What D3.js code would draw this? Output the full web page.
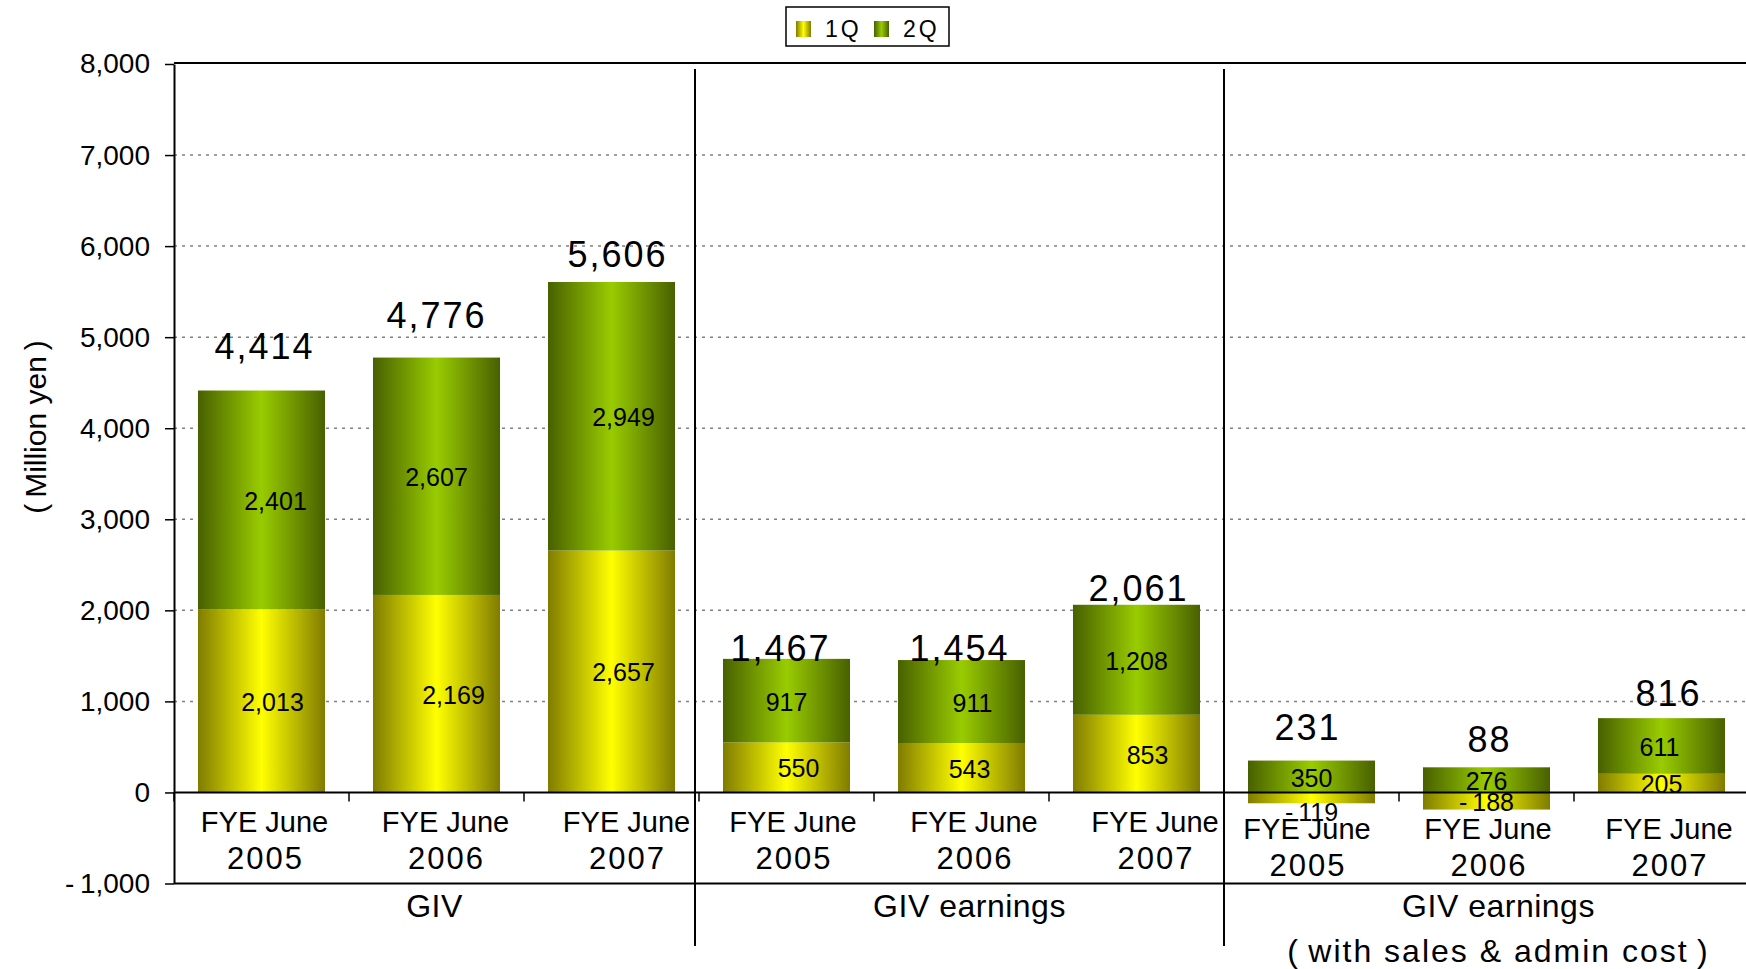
<!DOCTYPE html>
<html>
<head>
<meta charset="utf-8">
<script src="https://cdn.jsdelivr.net/npm/d3@7"></script>
<style>
  body { margin: 0; background: #fff; }
  text { font-family: "Liberation Sans", Arial, "Noto Sans CJK JP", sans-serif; fill: #000; }
</style>
</head>
<body>
<div id="chart"></div>
<script>
//Group names shown under the plot (one entry per line).
const groupNames = [["GIV"], ["GIV earnings"], ["GIV earnings", "(\u2009with sales & admin cost\u2009)"]]

//Fiscal years inside every group.
const years = ["2005", "2006", "2007"]

//Series values, in group order (GIV, GIV earnings, GIV earnings with costs).
const seriesNames = ["1Q", "2Q"]
const q1 = [2013, 2169, 2657, 550, 543, 853, -119, -188, 205]
const q2 = [2401, 2607, 2949, 917, 911, 1208, 350, 276, 611]
const totals = [4414, 4776, 5606, 1467, 1454, 2061, 231, 88, 816]

//Values on the y axis.
const yTicks = [-1000, 0, 1000, 2000, 3000, 4000, 5000, 6000, 7000, 8000]

//Page and plot size.
let w = 1746
let h = 969
let plotLeft = 174
let plotRight = 1749
let plotTop = 64
let plotBottom = 883.5

//Hand placed nudges the original chart uses for its labels (pixels).
let totalLift = [44, 42, 27, 10, 12, 16, 33, 28, 25]
let totalDx = [3, 0, 6, -6, -2, 2, -4, 3, 7]
let segLabelDx = {
  "1Q": [11, 17, 12, 12, 8, 11, 0, 0, 0],
  "2Q": [14, 0, 12, 0, 11, 0, 0, 0, -2]
}
let segLabelDy = {
  "1Q": [0, 0, 0, 0, 0, 0, 13, 0, 0],
  "2Q": [0, 0, 0, 0, 0, 0, 0, 0, 0]
}
let labelStep = 181
let groupLabelDx = [0, 3.5, -7.5]
let groupLabelDy = [0, 0, 7]
let groupNameDx = [-2, 8, 12]
let separatorDx = [-4, 0]

//Bar colours: dark edges, bright middle.
let colors = {
  "1Q": { edge: "#7f7c00", mid: "#ffff00" },
  "2Q": { edge: "#486000", mid: "#99cc00" }
}

//Builds one row per bar.
const cats = []
groupNames.forEach((g, gi) => years.forEach(yr => cats.push(gi + "-" + yr)))
const rows = cats.map((c, i) => ({
  cat: c,
  idx: i,
  group: Math.floor(i / 3),
  year: years[i % 3],
  "1Q": q1[i],
  "2Q": q2[i],
  total: totals[i]
}))

const stacked = d3.stack()
  .keys(seriesNames)
  .offset(d3.stackOffsetDiverging)(rows)

const fmt = d => d < 0 ? "-\u2009" + d3.format(",")(-d) : d3.format(",")(d)

const svg = d3.select("#chart")
  .append("svg")
  .attr("width", w)
  .attr("height", h)

//Horizontal gradients for the bars and the legend swatches.
const defs = svg.append("defs")
seriesNames.forEach(s => {
  const grad = defs.append("linearGradient")
    .attr("id", "grad-" + s)
    .attr("x1", 0).attr("x2", 1).attr("y1", 0).attr("y2", 0)
  grad.append("stop").attr("offset", "0%").attr("stop-color", colors[s].edge)
  grad.append("stop").attr("offset", "50%").attr("stop-color", colors[s].mid)
  grad.append("stop").attr("offset", "100%").attr("stop-color", colors[s].edge)
})

const x = d3.scaleBand()
  .domain(cats)
  .range([plotLeft, plotRight])
  .paddingInner(0.274)
  .paddingOuter(0.137)

const y = d3.scaleLinear()
  .domain([d3.min(yTicks), d3.max(yTicks)])
  .range([plotBottom, plotTop])

const step = x.step()
const boundary = i => x(cats[i]) - x.paddingOuter() * step

//Dotted gridlines.
svg.append("g")
  .selectAll("line")
  .data(yTicks.filter(t => t !== 0 && t !== d3.min(yTicks) && t !== d3.max(yTicks)))
  .enter()
  .append("line")
  .attr("x1", plotLeft)
  .attr("x2", plotRight)
  .attr("y1", d => y(d))
  .attr("y2", d => y(d))
  .attr("stroke", "#808080")
  .attr("stroke-width", 1.5)
  .attr("stroke-dasharray", "3,5")

//Stacked bars.
svg.append("g")
  .selectAll("g")
  .data(stacked)
  .enter()
  .append("g")
  .attr("fill", d => "url(#grad-" + d.key + ")")
  .selectAll("rect")
  .data(d => d)
  .enter()
  .append("rect")
  .attr("x", d => x(d.data.cat))
  .attr("width", x.bandwidth())
  .attr("y", d => y(Math.max(d[0], d[1])))
  .attr("height", d => Math.abs(y(d[0]) - y(d[1])))

//Plot border: top and bottom.
svg.append("line")
  .attr("x1", plotLeft).attr("x2", plotRight)
  .attr("y1", plotTop - 1).attr("y2", plotTop - 1)
  .attr("stroke", "#000").attr("stroke-width", 2)
svg.append("line")
  .attr("x1", plotLeft).attr("x2", plotRight)
  .attr("y1", plotBottom).attr("y2", plotBottom)
  .attr("stroke", "#000").attr("stroke-width", 2)

//Y axis.
const yAxis = d3.axisLeft(y)
  .tickValues(yTicks)
  .tickFormat(fmt)
  .tickSize(9)
  .tickSizeOuter(0)
  .tickPadding(15)

const yg = svg.append("g")
  .attr("transform", "translate(" + plotLeft + ",0)")
  .call(yAxis)
yg.select(".domain").attr("stroke", "#000").attr("stroke-width", 2)
yg.selectAll(".tick line").attr("stroke", "#000").attr("stroke-width", 1.5)
yg.selectAll(".tick text")
  .attr("font-size", 28)
  .attr("font-family", null)
  .attr("fill", "#000")

//Zero line with ticks between categories.
svg.append("line")
  .attr("x1", plotLeft).attr("x2", plotRight)
  .attr("y1", y(0)).attr("y2", y(0))
  .attr("stroke", "#000").attr("stroke-width", 2)
svg.append("g")
  .selectAll("line")
  .data(d3.range(cats.length + 1))
  .enter()
  .append("line")
  .attr("x1", i => plotLeft + i * step)
  .attr("x2", i => plotLeft + i * step)
  .attr("y1", y(0))
  .attr("y2", y(0) + 9)
  .attr("stroke", "#000")
  .attr("stroke-width", 1.5)

//Vertical separators between the groups.
svg.append("g")
  .selectAll("line")
  .data([1, 2])
  .enter()
  .append("line")
  .attr("x1", (g, i) => boundary(g * 3) + separatorDx[i])
  .attr("x2", (g, i) => boundary(g * 3) + separatorDx[i])
  .attr("y1", plotTop + 5)
  .attr("y2", 946)
  .attr("stroke", "#000")
  .attr("stroke-width", 2)

//Values inside the segments.
svg.append("g")
  .selectAll("g")
  .data(stacked)
  .enter()
  .append("g")
  .selectAll("text")
  .data(d => d.map(v => ({ v: v, key: d.key, val: v.data[d.key] })))
  .enter()
  .append("text")
  .attr("x", d => x(d.v.data.cat) + x.bandwidth() / 2 + segLabelDx[d.key][d.v.data.idx])
  .attr("y", d => (y(d.v[0]) + y(d.v[1])) / 2 + 1 + segLabelDy[d.key][d.v.data.idx])
  .attr("text-anchor", "middle")
  .attr("dominant-baseline", "central")
  .attr("font-size", 25)
  .text(d => fmt(d.val))

//Totals above the bars.
svg.append("g")
  .selectAll("text")
  .data(rows)
  .enter()
  .append("text")
  .attr("x", (d, i) => x(d.cat) + x.bandwidth() / 2 + totalDx[i])
  .attr("y", (d, i) => y(d3.max(stacked, s => s[i][1])) - totalLift[i])
  .attr("text-anchor", "middle")
  .attr("dominant-baseline", "central")
  .attr("font-size", 36)
  .attr("letter-spacing", 2)
  .text(d => fmt(d.total))

//Category labels, spaced by group like the original.
groupNames.forEach((g, gi) => {
  let start = boundary(gi * 3) + groupLabelDx[gi]
  let lx = d3.scaleBand()
    .domain(years)
    .range([start, start + years.length * labelStep])
  let lab = svg.append("g")
    .selectAll("text")
    .data(years)
    .enter()
    .append("text")
    .attr("text-anchor", "middle")
  lab.append("tspan")
    .attr("x", d => lx(d) + lx.bandwidth() / 2)
    .attr("y", y(0) + 40 + groupLabelDy[gi])
    .attr("font-size", 29)
    .text("FYE June")
  lab.append("tspan")
    .attr("x", d => lx(d) + lx.bandwidth() / 2 + 1)
    .attr("y", y(0) + 77 + groupLabelDy[gi])
    .attr("font-size", 31)
    .attr("letter-spacing", 2)
    .text(d => d)
})

//Group names under the axis.
groupNames.forEach((lines, gi) => {
  let cx = boundary(gi * 3) + 1.5 * step + groupNameDx[gi]
  svg.append("text")
    .attr("text-anchor", "middle")
    .attr("font-size", 32)
    .selectAll("tspan")
    .data(lines)
    .enter()
    .append("tspan")
    .attr("x", cx)
    .attr("y", (d, i) => plotBottom + 33 + i * 45)
    .attr("letter-spacing", (d, i) => i === 0 ? 0.5 : 2)
    .text(d => d)
})

//Y axis title.
svg.append("text")
  .attr("transform", "translate(35,427) rotate(-90)")
  .attr("text-anchor", "middle")
  .attr("dominant-baseline", "central")
  .attr("font-size", 30)
  .text("(\u2009Million yen\u2009)")

//Legend.
const legend = svg.append("g")
legend.append("rect")
  .attr("x", 786).attr("y", 7)
  .attr("width", 163).attr("height", 39)
  .attr("fill", "#fff")
  .attr("stroke", "#000")
  .attr("stroke-width", 1.5)
const items = legend.selectAll("g.item")
  .data(seriesNames)
  .enter()
  .append("g")
  .attr("class", "item")
  .attr("transform", (d, i) => "translate(" + (796 + i * 78) + ",0)")
items.append("rect")
  .attr("y", 21)
  .attr("width", 15)
  .attr("height", 16)
  .attr("fill", d => "url(#grad-" + d + ")")
items.append("text")
  .attr("x", 29)
  .attr("y", 37)
  .attr("font-size", 23)
  .attr("letter-spacing", 3)
  .text(d => d)
</script>
</body>
</html>
